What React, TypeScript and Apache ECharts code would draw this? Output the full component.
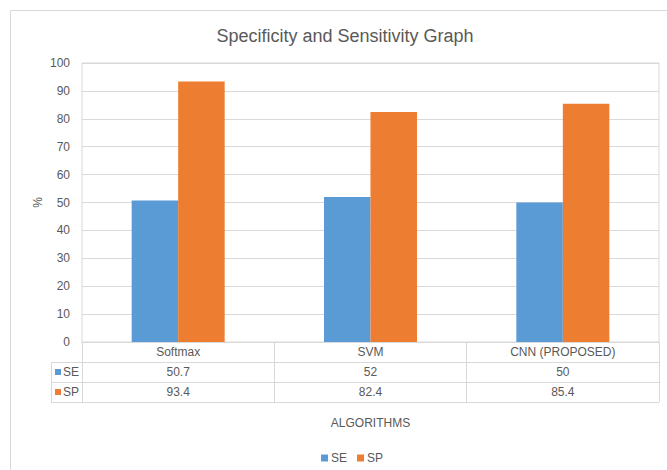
import React, { useEffect, useRef } from "react";
import * as echarts from "echarts";

const categories = ["Softmax", "SVM", "CNN (PROPOSED)"];
const seriesNames = ["SE", "SP"];
const seValues = [50.7, 52, 50];
const spValues = [93.4, 82.4, 85.4];
const colors = ["#5B9BD5", "#ED7D31"];
const titleText = "Specificity and Sensitivity Graph";
const xAxisTitle = "ALGORITHMS";
const yAxisTitle = "%";

const FONT = "'Liberation Sans', Arial, sans-serif";
const TEXT = "#595959";
const LINE = "#d9d9d9";

export default function App() {
  const ref = useRef<HTMLDivElement>(null);
  useEffect(() => {
    if (!ref.current) return;
    const chart = echarts.init(ref.current, null, { renderer: "svg" });
    const W = 667;
    const H = 470;
    const gridLeft = 82;
    const gridRight = 8;
    const gridTop = 63;
    const gridBottom = 128;
    const axisY = H - gridBottom;
    const rowH = 20;
    const tableLeft = 51;
    const plotRight = W - gridRight;
    const valueRows = [seValues, spValues];

    const graphics: any[] = [
      {
        type: "rect",
        shape: { x: 10.5, y: 10.5, width: 700, height: 500 },
        style: { fill: "none", stroke: LINE, lineWidth: 1 },
        silent: true,
      },
    ];
    for (let r = 1; r <= 3; r++) {
      const y = axisY + r * rowH + 0.5;
      graphics.push({
        type: "line",
        shape: { x1: tableLeft, y1: y, x2: plotRight, y2: y },
        style: { stroke: LINE, lineWidth: 1 },
        silent: true,
      });
    }
    graphics.push({
      type: "line",
      shape: { x1: tableLeft + 0.5, y1: axisY + rowH, x2: tableLeft + 0.5, y2: axisY + 3 * rowH + 0.5 },
      style: { stroke: LINE, lineWidth: 1 },
      silent: true,
    });
    seriesNames.forEach((name, i) => {
      const cy = axisY + (i + 1) * rowH + rowH / 2;
      graphics.push({
        type: "rect",
        shape: { x: 55, y: cy - 3, width: 6, height: 6 },
        style: { fill: colors[i] },
        silent: true,
      });
      graphics.push({
        type: "text",
        x: 63,
        y: cy,
        style: {
          text: name,
          fill: TEXT,
          font: `12px ${FONT}`,
          verticalAlign: "middle",
        },
        silent: true,
      });
    });

    chart.setOption({
      animation: false,
      backgroundColor: "#ffffff",
      title: {
        text: titleText,
        left: 340,
        top: 22,
        textAlign: "center",
        textStyle: { color: TEXT, fontFamily: FONT, fontSize: 18, fontWeight: "normal" },
      },
      legend: {
        data: seriesNames,
        left: 316,
        top: 447,
        itemWidth: 7,
        itemHeight: 7,
        itemGap: 10,
        icon: "rect",
        textStyle: { color: TEXT, fontFamily: FONT, fontSize: 12, padding: [0, 0, 0, -2] },
      },
      grid: {
        left: gridLeft,
        right: gridRight,
        top: gridTop,
        bottom: gridBottom,
        show: true,
        borderColor: LINE,
        borderWidth: 1,
      },
      xAxis: {
        type: "category",
        data: categories,
        name: xAxisTitle,
        nameLocation: "middle",
        nameGap: 75,
        nameMoveOverlap: false,
        nameTextStyle: { color: TEXT, fontFamily: FONT, fontSize: 12 },
        axisLine: { show: true, lineStyle: { color: LINE } },
        axisTick: { show: true, length: 3 * rowH, inside: false, lineStyle: { color: LINE } },
        axisLabel: {
          margin: 0,
          interval: 0,
          formatter: (value: string, index: number) =>
            [`{c|${value}}`, ...valueRows.map((vals) => `{v|${vals[index]}}`)].join("\n"),
          rich: {
            c: { color: TEXT, fontFamily: FONT, fontSize: 12, lineHeight: rowH, height: rowH },
            v: { color: TEXT, fontFamily: FONT, fontSize: 12, lineHeight: rowH, height: rowH },
          },
        },
      },
      yAxis: {
        type: "value",
        min: 0,
        max: 100,
        interval: 10,
        name: yAxisTitle,
        nameLocation: "middle",
        nameGap: 38,
        nameMoveOverlap: false,
        nameTextStyle: { color: TEXT, fontFamily: FONT, fontSize: 12 },
        axisLine: { show: false },
        axisTick: { show: false },
        axisLabel: { color: TEXT, fontFamily: FONT, fontSize: 12, margin: 12 },
        splitLine: { lineStyle: { color: LINE } },
      },
      series: [
        {
          name: seriesNames[0],
          type: "bar",
          data: seValues,
          barWidth: 46.5,
          barGap: "0%",
          itemStyle: { color: colors[0] },
        },
        {
          name: seriesNames[1],
          type: "bar",
          data: spValues,
          barWidth: 46.5,
          barGap: "0%",
          itemStyle: { color: colors[1] },
        },
      ],
      graphic: graphics,
    });
    return () => chart.dispose();
  }, []);
  return (
    <div
      ref={ref}
      style={{ position: "fixed", left: 0, top: 0, width: 667, height: 470, background: "#fff" }}
    />
  );
}
